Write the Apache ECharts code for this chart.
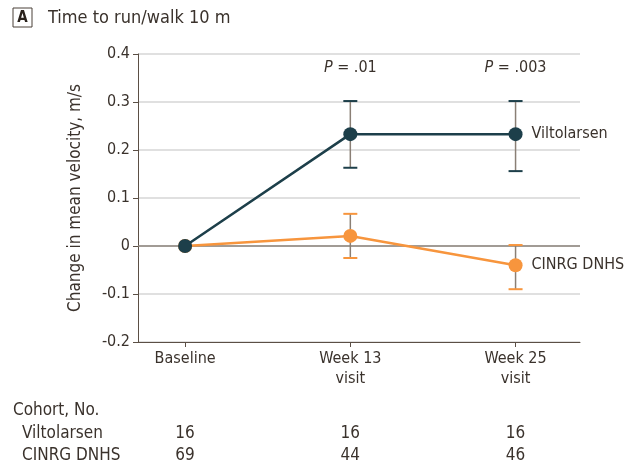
<!DOCTYPE html>
<html><head><meta charset="utf-8">
<script src="https://cdn.jsdelivr.net/npm/echarts@6/dist/echarts.min.js"></script>
<style>html,body{margin:0;padding:0;background:#fff}#c{width:626px;height:465px}</style>
</head><body><div id="c"></div>
<script>
var categories = ['Baseline', 'Week 13\nvisit', 'Week 25\nvisit'];
var seriesNames = ['Viltolarsen', 'CINRG DNHS'];
var viltoMean = [0, 0.233, 0.233];
var viltoLow = [null, 0.163, 0.156];
var viltoHigh = [null, 0.302, 0.302];
var cinrgMean = [0, 0.021, -0.040];
var cinrgLow = [null, -0.025, -0.090];
var cinrgHigh = [null, 0.067, 0.002];
var pLabels = [null, '.01', '.003'];
var viltoN = [16, 16, 16];
var cinrgN = [69, 44, 46];

var FONT = '"Liberation Sans Narrow", "DejaVu Sans Condensed", "Open Sans", sans-serif';
var FS = 16, FT = 17;
var TXT = '#3a322c';
var C_V = '#1d3f4a', C_C = '#f7953d', C_ERR = '#8a7f75', AX = '#5b4f45';

function pts(arr){ return arr.map(function(v,i){ return [i, v]; }); }
function errData(lo, hi){ var d=[]; for(var i=0;i<lo.length;i++){ if(lo[i]!=null) d.push([i, lo[i], hi[i]]); } return d; }
function errSeries(lo, hi, color){
  return {
    type:'custom', z:3, silent:true,
    data: errData(lo, hi),
    renderItem: function(params, api){
      var x = api.value(0);
      var a = api.coord([x, api.value(1)]);
      var b = api.coord([x, api.value(2)]);
      var w = 7;
      return {type:'group', children:[
        {type:'line', shape:{x1:a[0],y1:a[1],x2:b[0],y2:b[1]}, style:{stroke:C_ERR, lineWidth:1.5}},
        {type:'line', shape:{x1:a[0]-w,y1:a[1],x2:a[0]+w,y2:a[1]}, style:{stroke:color, lineWidth:2}},
        {type:'line', shape:{x1:b[0]-w,y1:b[1],x2:b[0]+w,y2:b[1]}, style:{stroke:color, lineWidth:2}}
      ]};
    }
  };
}

var chart = echarts.init(document.getElementById('c'), null, {renderer:'canvas'});
var option = {
  animation:false,
  textStyle:{fontFamily:FONT},
  grid:{left:138, right:46, top:54, bottom:123},
  xAxis:{
    type:'value', min:-0.285, max:2.39,
    axisLine:{onZero:false, lineStyle:{color:AX, width:1}},
    splitLine:{show:false},
    axisTick:{show:true, customValues:[0,1,2], length:5, lineStyle:{color:AX, width:1}},
    axisLabel:{customValues:[0,1,2], formatter:function(v){ return categories[Math.round(v)]; },
      color:TXT, fontSize:FS, fontFamily:FONT, lineHeight:20, margin:7}
  },
  yAxis:{
    type:'value', min:-0.2, max:0.4, interval:0.1,
    name:'Change in mean velocity, m/s', nameLocation:'middle', nameGap:54,
    nameTextStyle:{color:TXT, fontSize:17, fontFamily:FONT},
    axisLine:{show:true, onZero:false, lineStyle:{color:AX, width:1}},
    axisTick:{show:true, length:5, lineStyle:{color:AX, width:1}},
    axisLabel:{color:TXT, fontSize:FS, fontFamily:FONT, margin:8,
      formatter:function(v){ return Math.abs(v)<1e-9 ? '0' : v.toFixed(1); }},
    splitLine:{show:true, lineStyle:{color:'#d6d6d6', width:1.5}}
  },
  series:[
    errSeries(viltoLow, viltoHigh, C_V),
    errSeries(cinrgLow, cinrgHigh, C_C),
    {type:'line', name:seriesNames[0], data:pts(viltoMean), z:5,
      symbol:'circle', symbolSize:14, showAllSymbol:true,
      lineStyle:{color:C_V, width:2.5}, itemStyle:{color:C_V},
      endLabel:{show:true, formatter:seriesNames[0], color:TXT, fontSize:FS, fontFamily:FONT, distance:16}},
    {type:'line', name:seriesNames[1], data:pts(cinrgMean), z:4,
      symbol:'circle', symbolSize:14, showAllSymbol:true,
      lineStyle:{color:C_C, width:2.5}, itemStyle:{color:C_C},
      endLabel:{show:true, formatter:seriesNames[1], color:TXT, fontSize:FS, fontFamily:FONT, distance:16},
      markLine:{silent:true, symbol:'none', label:{show:false}, z:1,
        lineStyle:{color:'#8c847d', width:1.5, type:'solid'}, data:[{yAxis:0}]}}
  ]
};
chart.setOption(option);

var g = [];
g.push({type:'rect', shape:{x:13,y:8,width:19,height:19}, style:{fill:'#fff', stroke:'#4a4038', lineWidth:1}});
g.push({type:'text', x:22.5, y:18, style:{text:'A', font:'bold 15px '+FONT, fill:'#2a221c', align:'center', verticalAlign:'middle'}});
g.push({type:'text', x:48, y:18, style:{text:'Time to run/walk 10 m', font:'18px '+FONT, fill:TXT, verticalAlign:'middle'}});
for (var i=0;i<categories.length;i++){
  var px = chart.convertToPixel({gridIndex:0}, [i, 0])[0];
  if (pLabels[i]) {
    g.push({type:'text', x:px, y:68, style:{
      text:'{i|P} = ' + pLabels[i], align:'center', verticalAlign:'middle',
      rich:{i:{fontStyle:'italic', fontSize:FS, fontFamily:FONT, fill:TXT}},
      font:FS+'px '+FONT, fill:TXT}});
  }
  g.push({type:'text', x:px, y:434, style:{text:String(viltoN[i]), font:FT+'px '+FONT, fill:TXT, align:'center', verticalAlign:'middle'}});
  g.push({type:'text', x:px, y:456, style:{text:String(cinrgN[i]), font:FT+'px '+FONT, fill:TXT, align:'center', verticalAlign:'middle'}});
}
g.push({type:'text', x:13, y:411, style:{text:'Cohort, No.', font:FT+'px '+FONT, fill:TXT, verticalAlign:'middle'}});
g.push({type:'text', x:22, y:434, style:{text:seriesNames[0], font:FT+'px '+FONT, fill:TXT, verticalAlign:'middle'}});
g.push({type:'text', x:22, y:456, style:{text:seriesNames[1], font:FT+'px '+FONT, fill:TXT, verticalAlign:'middle'}});
chart.setOption({graphic:g});
</script></body></html>
